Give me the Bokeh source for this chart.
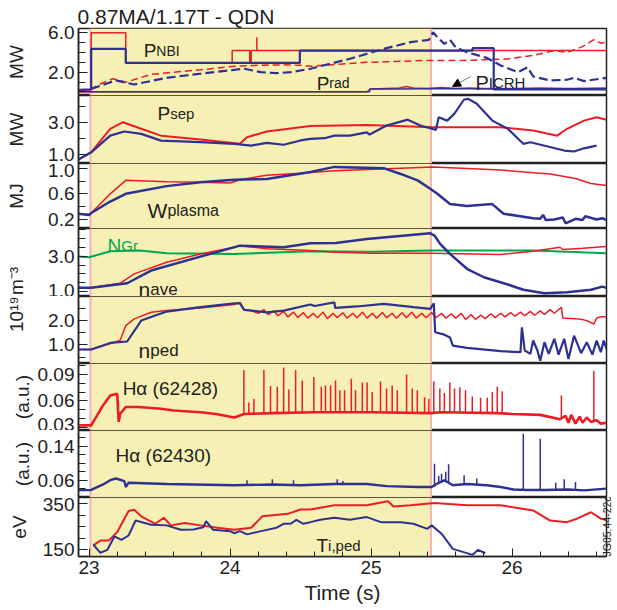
from math import pi
from bokeh.plotting import figure
from bokeh.models import (Range1d, FixedTicker, PrintfTickFormatter, BoxAnnotation, Span,
                          Label, Arrow, NormalHead, LinearAxis)
from bokeh.layouts import column
from bokeh.embed import file_html
from bokeh.resources import INLINE

FONT = "Liberation Sans"
RED = "#ed1c24"
BLUE = "#2e3192"
GREEN = "#00a651"
YELLOW = "#f6f0b4"
PINK = "#f3b3b3"
INK = "#222222"
NB = "\u00a0"

# ---------------- data ----------------
time_ticks = [23, 24, 25, 26]
heat_start, heat_end = 23.01, 25.425

# Panel 1: heating / radiated power (MW)
nbi_red_t = [22.93, 23.015, 23.015, 23.26, 23.26, 24.015, 24.015, 24.14, 24.14, 24.15, 24.15, 24.19, 24.19, 24.19, 26.67]
nbi_red_v = [0.2, 0.2, 6.0, 6.0, 2.95, 2.95, 4.2, 4.2, 2.95, 2.95, 4.2, 4.2, 5.55, 4.2, 4.2]
nbi_blue_t = [22.93, 23.015, 23.015, 23.26, 23.26, 24.495, 24.495, 25.72, 25.72, 25.87, 25.87, 26.67]
nbi_blue_v = [0.2, 0.25, 4.37, 4.37, 2.95, 2.95, 4.2, 4.2, 4.44, 4.44, 0.25, 0.25]
icrh_red_t = [22.93, 24.97, 25.0, 25.1, 25.2, 25.25, 25.3, 25.4, 25.5, 25.6, 25.7, 25.8, 26.0, 26.2, 26.4, 26.67]
icrh_red_v = [0.0, 0.0, 0.3, 0.35, 0.4, 0.55, 0.4, 0.35, 0.45, 0.35, 0.4, 0.35, 0.35, 0.4, 0.35, 0.4]
icrh_blue_t = [22.93, 24.99, 24.99, 25.2, 25.5, 25.87, 26.2, 26.67]
icrh_blue_v = [0.0, 0.0, 0.3, 0.3, 0.35, 0.3, 0.3, 0.3]
prad_red_t = [22.93, 23.0, 23.08, 23.17, 23.26, 23.44, 23.6, 23.79, 24.03, 24.2, 24.38, 24.5, 24.57, 24.75,
              24.97, 25.2, 25.42, 25.68, 25.97, 26.15, 26.3, 26.39, 26.5, 26.58, 26.63, 26.67]
prad_red_v = [0.2, 0.2, 0.8, 1.33, 0.98, 1.77, 2.0, 2.24, 2.6, 2.7, 2.75, 2.7, 2.6, 2.8,
              3.0, 3.1, 3.2, 3.2, 3.35, 3.7, 4.2, 4.0, 4.6, 5.3, 4.95, 5.05]
prad_blue_t = [23.015, 23.19, 23.32, 23.55, 23.79, 24.1, 24.22, 24.33, 24.43, 24.57, 24.85, 25.09, 25.28,
               25.41, 25.44, 25.47, 25.52, 25.56, 25.6, 25.68, 25.82, 25.92, 26.04, 26.11, 26.15, 26.27,
               26.39, 26.44, 26.51, 26.67]
prad_blue_v = [0.3, 1.16, 0.75, 1.43, 1.84, 2.35, 2.0, 1.9, 2.0, 2.35, 3.36, 4.37, 5.05,
               5.29, 6.06, 5.55, 4.88, 5.29, 4.54, 4.03, 3.46, 2.68, 2.0, 2.5, 1.56, 1.16,
               1.23, 1.43, 1.09, 1.43]

# Panel 2: Psep (MW)
psep_red_t = [22.92, 23.015, 23.15, 23.24, 23.37, 23.51, 23.79, 24.07, 24.12, 24.26, 24.57, 24.97,
              25.44, 25.92, 26.15, 26.32, 26.39, 26.51, 26.6, 26.67]
psep_red_v = [0.69, 1.16, 2.63, 3.04, 2.63, 2.2, 1.96, 1.69, 2.1, 2.46, 2.8, 2.87,
              2.73, 2.73, 2.52, 2.2, 2.63, 3.14, 3.35, 3.2]
psep_blue_t = [22.92, 23.015, 23.15, 23.25, 23.37, 23.51, 23.79, 24.03, 24.15, 24.26, 24.38, 24.5,
               24.57, 24.67, 24.74, 24.85, 24.97, 24.99, 25.11, 25.26, 25.35, 25.42, 25.46, 25.48,
               25.54, 25.59, 25.66, 25.69, 25.75, 25.86, 25.97, 26.08, 26.13, 26.37, 26.44, 26.51, 26.6]
psep_blue_v = [0.69, 1.16, 2.2, 2.46, 2.31, 1.89, 1.79, 1.69, 1.58, 1.75, 1.63, 1.9,
               2.0, 2.04, 2.2, 2.2, 2.41, 2.27, 2.83, 3.2, 2.83, 2.66, 2.56, 3.35,
               3.14, 3.56, 4.46, 4.5, 4.19, 3.14, 2.63, 1.69, 1.79, 1.27, 1.21, 1.41, 1.58]

# Panel 3: Wplasma (MJ)
w_red_t = [22.92, 23.0, 23.015, 23.15, 23.26, 23.55, 23.79, 24.0, 24.07, 24.26, 24.5, 24.74, 25.21,
           25.44, 25.92, 26.27, 26.45, 26.56, 26.67]
w_red_v = [0.29, 0.28, 0.30, 0.6, 0.81, 0.79, 0.78, 0.77, 0.82, 0.89, 0.92, 0.96, 1.0,
           1.02, 0.97, 0.91, 0.84, 0.76, 0.73]
w_blue_t = [22.92, 23.0, 23.015, 23.15, 23.26, 23.55, 23.79, 24.03, 24.26, 24.57, 24.74, 25.09, 25.21,
            25.33, 25.42, 25.47, 25.56, 25.68, 25.86, 25.94, 26.15, 26.2, 26.22, 26.24, 26.3, 26.36,
            26.38, 26.45, 26.5, 26.52, 26.6, 26.64, 26.67]
w_blue_v = [0.29, 0.27, 0.30, 0.48, 0.6, 0.72, 0.78, 0.82, 0.83, 0.94, 1.02, 1.0, 0.91,
            0.81, 0.68, 0.6, 0.44, 0.41, 0.44, 0.29, 0.22, 0.21, 0.27, 0.19, 0.2, 0.23,
            0.14, 0.21, 0.19, 0.25, 0.2, 0.22, 0.19]

# Panel 4: line-average density and Greenwald density (1e19 m^-3)
nave_red_t = [22.92, 23.015, 23.22, 23.32, 23.55, 23.79, 24.03, 24.07, 24.26, 24.57, 24.75, 25.0, 25.42,
              25.92, 26.15, 26.34, 26.36, 26.5, 26.67]
nave_red_v = [1.21, 1.21, 1.47, 2.0, 2.66, 3.13, 3.51, 3.6, 3.42, 3.32, 3.23, 3.17, 3.17,
              3.1, 3.28, 3.51, 3.38, 3.45, 3.55]
nave_blue_t = [22.92, 23.015, 23.27, 23.44, 23.79, 24.07, 24.38, 24.57, 24.75, 24.97, 25.42, 25.45, 25.49,
               25.56, 25.68, 25.8, 25.97, 26.08, 26.23, 26.39, 26.56, 26.64, 26.67]
nave_blue_v = [1.21, 1.21, 1.47, 2.19, 2.98, 3.6, 3.51, 3.74, 3.75, 3.98, 4.3, 4.17, 3.7,
               3.13, 2.29, 1.81, 1.4, 1.1, 0.9, 0.96, 1.1, 1.28, 1.21]
ngr_t = [22.92, 23.0, 23.15, 23.36, 23.55, 24.03, 24.57, 25.0, 25.42, 26.15, 26.67]
ngr_v = [2.98, 2.94, 3.28, 3.32, 3.17, 3.13, 3.28, 3.25, 3.32, 3.32, 3.17]

# Panel 5: pedestal density (1e19 m^-3)
nped_red_t = [22.92, 23.015, 23.22, 23.26, 23.32, 23.44, 23.55, 23.79, 24.03, 24.07, 24.1, 24.15,
              24.2, 24.24, 24.27, 24.31, 24.34, 24.38, 24.41, 24.45, 24.48, 24.52, 24.55, 24.59,
              24.62, 24.66, 24.69, 24.73, 24.76, 24.8, 24.83, 24.87, 24.9, 24.94, 24.97, 25.01,
              25.04, 25.08, 25.11, 25.15, 25.18, 25.22, 25.25, 25.29, 25.32, 25.36, 25.39, 25.43,
              25.46, 25.5, 25.53, 25.57, 25.6, 25.64, 25.67, 25.71, 25.74, 25.78, 25.81, 25.85,
              25.88, 25.92, 25.95, 25.99, 26.02, 26.06, 26.09, 26.13, 26.16, 26.2, 26.23, 26.27,
              26.3, 26.35, 26.36, 26.45, 26.51, 26.55, 26.58, 26.6, 26.63, 26.67]
nped_red_v = [0.81, 0.81, 1.18, 1.79, 2.07, 2.34, 2.41, 2.52, 2.66, 2.75, 2.45, 2.41,
              2.3, 2.45, 2.25, 2.4, 2.2, 2.38, 2.15, 2.35, 2.12, 2.33, 2.1, 2.3,
              2.12, 2.35, 2.08, 2.3, 2.12, 2.32, 2.1, 2.3, 2.12, 2.35, 2.1, 2.3,
              2.1, 2.33, 2.12, 2.3, 2.1, 2.32, 2.12, 2.35, 2.1, 2.3, 2.12, 2.33,
              2.12, 2.3, 2.1, 2.28, 2.1, 2.3, 2.05, 2.25, 2.05, 2.22, 2.08, 2.28,
              2.12, 2.3, 2.15, 2.33, 2.18, 2.35, 2.2, 2.38, 2.22, 2.4, 2.25, 2.45,
              2.3, 2.55, 2.11, 2.08, 2.03, 1.95, 1.86, 2.1, 2.16, 2.16]
nped_blue_t = [22.92, 23.015, 23.15, 23.27, 23.37, 23.55, 23.79, 24.03, 24.07, 24.1, 24.26, 24.38,
               24.57, 24.6, 24.74, 24.745, 24.9, 25.09, 25.3, 25.42, 25.445, 25.455, 25.52, 25.56,
               25.58, 25.68, 25.92, 26.06, 26.07, 26.09, 26.13, 26.15, 26.18, 26.2, 26.23, 26.26,
               26.3, 26.33, 26.37, 26.4, 26.44, 26.49, 26.53, 26.57, 26.6, 26.63, 26.65, 26.67]
nped_blue_v = [0.81, 0.81, 1.08, 1.14, 2.0, 2.37, 2.55, 2.71, 2.71, 2.44, 2.34, 2.41,
               2.66, 2.6, 2.75, 2.52, 2.58, 2.69, 2.55, 2.48, 2.71, 1.52, 1.42, 1.3,
               0.97, 0.88, 0.74, 0.7, 1.72, 0.77, 0.63, 1.18, 0.77, 0.35, 1.11, 0.63,
               1.25, 0.6, 1.25, 0.42, 1.38, 0.66, 1.11, 0.6, 1.18, 0.7, 1.18, 0.84]

# Panel 6: H-alpha, pulse 62428 (a.u.)
ha1_t = [22.92, 23.015, 23.1, 23.15, 23.2, 23.21, 23.22, 23.26, 23.35, 23.51, 23.6, 23.79, 23.9,
         24.03, 24.1, 24.3, 24.6, 25.0, 25.42, 25.5, 25.9, 26.0, 26.2, 26.34, 26.38, 26.4, 26.42,
         26.45, 26.48, 26.5, 26.53, 26.56, 26.6, 26.63, 26.67]
ha1_v = [0.032, 0.032, 0.055, 0.066, 0.068, 0.036, 0.045, 0.053, 0.053, 0.051, 0.049, 0.047, 0.045,
         0.041, 0.045, 0.046, 0.047, 0.047, 0.046, 0.047, 0.046, 0.045, 0.044, 0.039, 0.043, 0.035, 0.044,
         0.034, 0.042, 0.035, 0.041, 0.036, 0.038, 0.034, 0.035]
elm1_t = [24.098, 24.133, 24.169, 24.24, 24.287, 24.335, 24.38, 24.417, 24.465, 24.512, 24.594,
          24.647, 24.677, 24.713, 24.748, 24.779, 24.812, 24.86, 24.89, 24.938, 24.972, 25.008,
          25.067, 25.11, 25.15, 25.186, 25.252, 25.292, 25.328, 25.38, 25.41, 25.445, 25.488,
          25.52, 25.559, 25.592, 25.63, 25.67, 25.718, 25.777, 25.824, 25.86, 25.895, 25.93,
          26.35, 26.58]
elm1_peak = [0.095, 0.058, 0.062, 0.095, 0.077, 0.076, 0.098, 0.073, 0.095, 0.083, 0.087,
             0.076, 0.0775, 0.0775, 0.083, 0.072, 0.072, 0.085, 0.072, 0.081, 0.081, 0.07,
             0.082, 0.074, 0.0775, 0.072, 0.09, 0.074, 0.072, 0.064, 0.062, 0.082, 0.074,
             0.069, 0.081, 0.074, 0.0755, 0.072, 0.065, 0.0635, 0.0635, 0.07, 0.076, 0.071,
             0.066, 0.094]
elm1_base = [0.045, 0.046, 0.046, 0.046, 0.046, 0.046, 0.046, 0.046, 0.046, 0.046, 0.047,
             0.047, 0.047, 0.047, 0.047, 0.047, 0.047, 0.047, 0.047, 0.047, 0.047, 0.047,
             0.047, 0.047, 0.047, 0.047, 0.047, 0.047, 0.047, 0.046, 0.046, 0.046, 0.047,
             0.047, 0.047, 0.047, 0.047, 0.047, 0.047, 0.047, 0.047, 0.046, 0.046, 0.046,
             0.039, 0.038]

# Panel 7: H-alpha, pulse 62430 (a.u.)
ha2_t = [22.92, 23.015, 23.1, 23.15, 23.19, 23.25, 23.26, 23.28, 23.55, 24.03, 24.3, 24.5, 24.74,
         24.97, 25.11, 25.33, 25.43, 25.47, 25.52, 25.58, 25.68, 25.82, 25.92, 26.01, 26.11, 26.23,
         26.4, 26.51, 26.67]
ha2_v = [0.0365, 0.037, 0.05, 0.06, 0.064, 0.058, 0.044, 0.054, 0.051, 0.048, 0.05, 0.048, 0.051,
         0.051, 0.046, 0.044, 0.044, 0.052, 0.06, 0.048, 0.051, 0.048, 0.044, 0.038, 0.037, 0.037,
         0.038, 0.036, 0.040]
elm2_t = [24.12, 24.3, 24.45, 24.76, 24.8, 25.45, 25.48, 25.5, 25.53, 25.55, 25.66, 25.75,
          26.08, 26.2, 26.31, 26.37, 26.45]
elm2_peak = [0.06, 0.062, 0.06, 0.062, 0.058, 0.099, 0.07, 0.075, 0.08, 0.098, 0.072, 0.064,
             0.17, 0.158, 0.054, 0.062, 0.056]
elm2_base = [0.048, 0.05, 0.049, 0.051, 0.05, 0.044, 0.052, 0.054, 0.058, 0.055, 0.05, 0.05,
             0.038, 0.037, 0.037, 0.037, 0.038]

# Panel 8: pedestal ion temperature (eV)
ti_red_t = [23.03, 23.08, 23.14, 23.2, 23.28, 23.32, 23.37, 23.47, 23.53, 23.58, 23.68, 23.79, 23.91,
            24.03, 24.15, 24.23, 24.41, 24.5, 24.57, 24.74, 24.97, 25.12, 25.16, 25.28, 25.45, 25.68,
            25.92, 26.15, 26.27, 26.39, 26.46, 26.56, 26.63, 26.67]
ti_red_v = [169, 190, 190, 227, 318, 324, 295, 263, 289, 256, 266, 256, 246,
            237, 246, 296, 306, 325, 325, 343, 343, 361, 338, 343, 353, 343,
            343, 321, 277, 270, 285, 313, 285, 280]
ti_blue_t = [23.03, 23.08, 23.13, 23.18, 23.23, 23.28, 23.33, 23.44, 23.55, 23.65, 23.74, 23.81, 23.83,
             23.88, 24.0, 24.03, 24.07, 24.12, 24.22, 24.33, 24.38, 24.43, 24.47, 24.52, 24.57, 24.64,
             24.74, 24.85, 24.97, 25.07, 25.21, 25.3, 25.4, 25.43, 25.5, 25.58, 25.72, 25.76, 25.81]
ti_blue_v = [173, 137, 150, 208, 193, 212, 277, 259, 256, 237, 238, 248, 274,
             237, 231, 222, 231, 217, 231, 246, 263, 263, 280, 263, 270, 280,
             289, 280, 292, 270, 270, 263, 241, 256, 220, 154, 128, 150, 135]

# ---------------- layout helpers ----------------
x_range = Range1d(22.925, 26.67)


def panel(frame_h, y0, y1, majors, minors, fmt, unit, unit_standoff, top=0, bottom=0, xaxis=False):
    p = figure(frame_width=528, frame_height=frame_h, x_range=x_range, y_range=Range1d(y0, y1),
               toolbar_location=None, output_backend="svg",
               x_axis_location=("below" if xaxis else None),
               min_border_left=78, min_border_right=11,
               min_border_top=top, min_border_bottom=bottom)
    p.xgrid.visible = False
    p.ygrid.visible = False
    p.background_fill_color = "white"
    p.border_fill_color = "white"
    p.outline_line_color = INK
    p.outline_line_width = 1.5
    ax = p.yaxis[0]
    ax.ticker = FixedTicker(ticks=majors, minor_ticks=minors)
    ax.formatter = PrintfTickFormatter(format=fmt)
    ax.major_tick_in = 9
    ax.major_tick_out = 0
    ax.minor_tick_in = 7
    ax.minor_tick_out = 0
    ax.major_tick_line_color = INK
    ax.minor_tick_line_color = INK
    ax.axis_line_color = INK
    ax.axis_line_width = 1.5
    ax.major_label_text_font = FONT
    ax.major_label_text_font_size = "19px"
    ax.major_label_text_color = INK
    ax.major_label_standoff = 4
    ax.axis_label = unit
    ax.axis_label_text_font = FONT
    ax.axis_label_text_font_size = "19px"
    ax.axis_label_text_font_style = "normal"
    ax.axis_label_text_color = INK
    ax.axis_label_standoff = unit_standoff
    p.add_layout(BoxAnnotation(left=heat_start, right=heat_end, fill_color=YELLOW,
                               fill_alpha=1.0, line_color=None, level="underlay"))
    for loc in (heat_start, heat_end):
        p.add_layout(Span(location=loc, dimension="height", line_color=PINK,
                          line_width=2, level="underlay"))
    return p


def name_label(p, x, y, big, small, big_size, small_size, big_em, color=INK):
    p.add_layout(Label(x=x, y=y, text=big, text_font=FONT, text_font_size=f"{big_size}px",
                       text_color=color, text_baseline="alphabetic"))
    if small:
        p.add_layout(Label(x=x, y=y, x_offset=big_em * big_size, text=small, text_font=FONT,
                           text_font_size=f"{small_size}px", text_color=color,
                           text_baseline="alphabetic"))


# ---------------- panels ----------------
p1 = panel(67, -0.37, 6.44, [2.0, 6.0], [0, 1, 3, 4, 5], "%.1f", "MW", 18, top=28)
p1.title.text = "0.87MA/1.17T - QDN"
p1.title.text_font = FONT
p1.title.text_font_size = "21px"
p1.title.text_font_style = "normal"
p1.title.text_color = INK
p1.title.align = "left"
p1.title.offset = -1
p1.title.standoff = 2
p1.line(icrh_red_t, icrh_red_v, color=RED, line_width=1.5)
p1.line(icrh_blue_t, icrh_blue_v, color=BLUE, line_width=1.5)
p1.line(prad_red_t, prad_red_v, color=RED, line_width=1.5, line_dash="7 4")
p1.line(prad_blue_t, prad_blue_v, color=BLUE, line_width=2.2, line_dash="9 4")
p1.line(nbi_red_t, nbi_red_v, color=RED, line_width=1.5)
p1.line(nbi_blue_t, nbi_blue_v, color=BLUE, line_width=2.2)
name_label(p1, 23.387, 4.2, "P", "NBI", 19, 14, 0.667)
name_label(p1, 24.614, 0.85, "P", "rad", 19, 14, 0.667)
name_label(p1, 25.74, 0.95, "P", "ICRH", 20, 15, 0.667)
p1.add_layout(Arrow(end=NormalHead(size=8, fill_color="black", line_color="black"),
                    x_start=25.706, y_start=1.56, x_end=25.578, y_end=0.55,
                    line_color="#777777", line_width=1))

p2 = panel(68, 0.46, 4.71, [1.0, 3.0], [2.0, 4.0], "%.1f", "MW", 18)
p2.line(psep_red_t, psep_red_v, color=RED, line_width=2)
p2.line(psep_blue_t, psep_blue_v, color=BLUE, line_width=2.2)
name_label(p2, 23.486, 3.56, "P", "sep", 19, 15, 0.667)

p3 = panel(65, 0.059, 1.073, [0.2, 0.6, 1.0], [0.4, 0.8], "%.1f", "MJ", 18)
p3.line(w_red_t, w_red_v, color=RED, line_width=1.5)
p3.line(w_blue_t, w_blue_v, color=BLUE, line_width=2.5)
name_label(p3, 23.415, 0.34, "W", "plasma", 21, 16, 0.944)

p4 = panel(68, 0.72, 4.57, [1.0, 3.0], [1.5, 2.0, 2.5, 3.5, 4.0, 4.5], "%.1f",
           "m\u207b\u00b3" + NB * 7, 18)
p4.line(ngr_t, ngr_v, color=GREEN, line_width=2)
p4.line(nave_red_t, nave_red_v, color=RED, line_width=1.5)
p4.line(nave_blue_t, nave_blue_v, color=BLUE, line_width=2.5)
name_label(p4, 23.131, 3.61, "N", "Gr", 19, 15, 0.722, color=GREEN)
name_label(p4, 23.351, 1.11, "n", "ave", 21, 17, 0.556)

p5 = panel(67, 0.235, 2.99, [1.0, 2.0], [0.5, 1.5, 2.5], "%.1f",
           NB * 6 + "10\u00b9\u2079", 18)
p5.line(nped_red_t, nped_red_v, color=RED, line_width=1.5)
p5.line(nped_blue_t, nped_blue_v, color=BLUE, line_width=2.2)
name_label(p5, 23.351, 0.79, "n", "ped", 21, 17, 0.556)

p6 = panel(67, 0.0262, 0.1025, [0.03, 0.06, 0.09], [0.04, 0.05, 0.07, 0.08, 0.10], "%.2f",
           "(a.u.)", 2)
p6.line(ha1_t, ha1_v, color=RED, line_width=2.6)
p6.segment(x0=elm1_t, y0=elm1_base, x1=elm1_t, y1=elm1_peak, color=RED, line_width=1.5)
name_label(p6, 23.238, 0.074, "H\u03b1 (62428)", None, 19, 0, 0)

p7 = panel(67, 0.0191, 0.1776, [0.06, 0.14], [0.04, 0.08, 0.10, 0.12, 0.16], "%.2f",
           "(a.u.)", 2)
p7.line(ha2_t, ha2_v, color=BLUE, line_width=2.4)
p7.segment(x0=elm2_t, y0=elm2_base, x1=elm2_t, y1=elm2_peak, color=BLUE, line_width=1.5)
name_label(p7, 23.188, 0.119, "H\u03b1 (62430)", None, 19, 0, 0)

p8 = panel(59, 120.9, 377, [150, 350], [200, 250, 300], "%d", "eV", 10, bottom=50, xaxis=True)
p8.line(ti_red_t, ti_red_v, color=RED, line_width=2)
p8.line(ti_blue_t, ti_blue_v, color=BLUE, line_width=2)
name_label(p8, 24.613, 169, "T", "i,ped", 19, 15, 0.611)

xa = p8.xaxis[0]
xa.ticker = FixedTicker(ticks=time_ticks,
                        minor_ticks=[23.0 + 0.2 * k for k in range(0, 19)])
xa.formatter = PrintfTickFormatter(format="%d")
xa.major_tick_in = 8
xa.major_tick_out = 0
xa.minor_tick_in = 5
xa.minor_tick_out = 0
xa.axis_line_color = INK
xa.axis_line_width = 1.5
xa.major_tick_line_color = INK
xa.minor_tick_line_color = INK
xa.major_label_text_font = FONT
xa.major_label_text_font_size = "19px"
xa.major_label_text_color = INK
xa.major_label_standoff = 4
xa.axis_label = "Time (s)"
xa.axis_label_text_font = FONT
xa.axis_label_text_font_size = "21px"
xa.axis_label_text_font_style = "normal"
xa.axis_label_text_color = INK
xa.axis_label_standoff = 4

rax = LinearAxis(ticker=FixedTicker(ticks=[]), axis_line_color=None,
                 major_tick_out=0, minor_tick_out=0, major_label_text_font_size="0px",
                 axis_label="JG05.44-22c", axis_label_text_font=FONT,
                 axis_label_text_font_size="10.5px", axis_label_text_font_style="normal",
                 axis_label_text_color=INK, axis_label_standoff=0, major_label_standoff=0)
try:
    rax.axis_label_orientation = pi / 2
except Exception:
    pass
try:
    rax.axis_label_align = "start"
except Exception:
    pass
p8.add_layout(rax, "right")

layout = column(p1, p2, p3, p4, p5, p6, p7, p8)
open("out.html", "w").write(file_html(layout, INLINE))
